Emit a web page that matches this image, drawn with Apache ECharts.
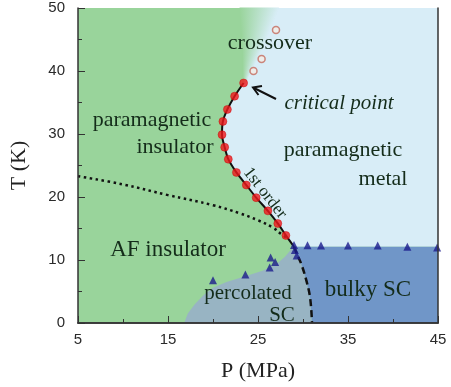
<!DOCTYPE html>
<html><head><meta charset="utf-8">
<script src="https://cdn.jsdelivr.net/npm/echarts@6.0.0/dist/echarts.min.js"></script>
<style>html,body{margin:0;padding:0;background:#fff}#c{width:451px;height:387px}</style>
</head><body><div id="c"></div>
<script>
// ---------- data (P in MPa, T in K) ----------
// first-order transition points (red filled circles)
const firstOrderP = [23.4, 22.4, 21.6, 21.1, 21.0, 21.3, 21.7, 22.6, 23.7, 24.8, 26.1, 27.2, 28.1];
const firstOrderT = [38.1, 36.0, 33.9, 32.0, 29.9, 27.9, 26.0, 23.9, 21.9, 19.9, 17.8, 15.8, 13.9];
// end of first-order line (meets SC onset)
const firstOrderEndP = [29.0];
const firstOrderEndT = [12.1];
// crossover points (open circles)
const crossoverP = [24.5, 25.4, 27.0];
const crossoverT = [40.0, 41.9, 46.5];
// SC onset triangles
const tcP = [20.0, 23.6, 26.3, 26.4, 26.9, 29.0, 29.1, 29.3, 30.5, 32.0, 35.0, 38.3, 41.6, 44.9];
const tcT = [6.8, 7.7, 8.8, 10.4, 9.7, 12.4, 11.6, 10.7, 12.35, 12.3, 12.3, 12.3, 12.1, 12.0];
// AF boundary (dotted)
const afP = [5.0, 10.0, 15.0, 20.0, 23.0, 25.0, 26.7, 27.6, 28.4];
const afT = [23.3, 22.0, 20.3, 18.7, 17.4, 16.3, 15.1, 14.1, 13.4];
// percolated / bulky SC boundary (dashed)
const dashP = [29.0, 29.4, 29.85, 30.4, 30.8, 31.0];
const dashT = [12.1, 10.7, 9.2, 6.6, 3.9, 0.0];
// percolated SC boundary with AF insulator
const percP = [16.8, 17.2, 18.0, 19.0, 20.0, 21.5, 23.5, 25.5, 27.0, 28.0, 28.7, 29.0];
const percT = [0.0, 1.5, 3.0, 4.5, 5.6, 6.5, 7.4, 8.3, 9.3, 10.5, 11.7, 12.1];
// bulky SC top
const bulkTopT = 12.1;
// crossover band edges
const bandLeftP = [23.4, 23.3, 23.0];
const bandLeftT = [38.1, 44.0, 50.0];
const bandRightP = [23.6, 24.2, 25.6, 27.3];
const bandRightT = [38.1, 40.0, 44.0, 50.0];
// axes
const xMin = 5, xMax = 45, yMin = 0, yMax = 50;

const zip = (a, b) => a.map((v, i) => [v, b[i]]);
const GREEN = '#99d49b', METAL = '#d8edf7', PERC = '#98b4c3', BULK = '#7096c8';

const firstOrderPts = zip(firstOrderP, firstOrderT);
const firstOrderLine = firstOrderPts.concat(zip(firstOrderEndP, firstOrderEndT));
const metalPoly = firstOrderLine.slice().reverse().reverse(); // copy
const metalRegion = [].concat(
  firstOrderPts,
  zip(firstOrderEndP, firstOrderEndT),
  [[xMax, bulkTopT], [xMax, yMax], [bandRightP[bandRightP.length-1], yMax]],
  zip(bandRightP, bandRightT).reverse()
);
const percRegion = [].concat(zip(percP, percT), zip(dashP, dashT));
const bulkRegion = [].concat(zip(dashP, dashT), [[xMax, 0], [xMax, bulkTopT]]);

function polySeries(pts, fill, z) {
  return {
    type: 'custom', coordinateSystem: 'cartesian2d', silent: true, z: z,
    data: pts,
    renderItem: (params, api) => {
      if (params.dataIndex !== 0) return null;
      return { type: 'polygon', shape: { points: pts.map(p => api.coord(p)) }, style: { fill: fill } };
    }
  };
}
function interp(ps, ts, t) {
  for (let i = 0; i < ts.length - 1; i++) {
    if (t >= ts[i] && t <= ts[i+1]) {
      const f = (t - ts[i]) / (ts[i+1] - ts[i]);
      return ps[i] + f * (ps[i+1] - ps[i]);
    }
  }
  return t < ts[0] ? ps[0] : ps[ps.length-1];
}
const bandSeries = {
  type: 'custom', coordinateSystem: 'cartesian2d', silent: true, z: 2,
  data: [[bandLeftP[0], bandLeftT[0]]],
  renderItem: (params, api) => {
    const children = [];
    const t0 = bandLeftT[0], t1 = yMax, n = 60, dt = (t1 - t0) / n;
    for (let i = 0; i < n; i++) {
      const ta = t0 + i * dt, tb = ta + dt, tm = (ta + tb) / 2;
      const xl = interp(bandLeftP, bandLeftT, tm), xr = interp(bandRightP, bandRightT, tm);
      const a = api.coord([xl, tb]), b = api.coord([xr, ta]);
      children.push({
        type: 'rect',
        shape: { x: a[0] - 0.5, y: a[1] - 0.5, width: b[0] - a[0] + 1, height: b[1] - a[1] + 1 },
        style: { fill: new echarts.graphic.LinearGradient(0, 0, 1, 0, [
          { offset: 0, color: GREEN }, { offset: 1, color: METAL }]) }
      });
    }
    return { type: 'group', children: children };
  }
};

const serif = "'Liberation Serif','Times New Roman',serif";
const TXT = '#142c1a';
function label(text, x, y, size, extra) {
  return Object.assign({ type: 'text', x: x, y: y, z: 100,
    style: Object.assign({ text: text, font: size + 'px ' + serif, fill: TXT, align: 'center', verticalAlign: 'middle' }, extra && extra.style || {}) },
    extra && extra.el || {});
}

const chart = echarts.init(document.getElementById('c'), null, { renderer: 'canvas' });
chart.setOption({
  animation: false,
  backgroundColor: '#ffffff',
  grid: { left: 78, right: 13, top: 8, bottom: 62, show: true, backgroundColor: GREEN, borderWidth: 0 },
  xAxis: [{
    type: 'value', min: xMin, max: xMax, interval: 10,
    name: 'P (MPa)', nameLocation: 'middle', nameGap: 37,
    nameTextStyle: { fontFamily: serif, fontSize: 22, color: '#222' },
    axisLine: { show: true, lineStyle: { color: '#333', width: 1.5 } },
    axisTick: { show: true, inside: true, length: 7, lineStyle: { color: '#333', width: 1 } },
    minorTick: { show: true, splitNumber: 2, length: 4, lineStyle: { color: '#333', width: 1 } },
    axisLabel: { margin: 9, fontFamily: "'Liberation Sans',Arial,sans-serif", fontSize: 15, color: '#2a2a2a' },
    splitLine: { show: false }, z: 50
  }, {
    type: 'value', position: 'top', min: xMin, max: xMax,
    axisLine: { show: true, lineStyle: { color: '#333', width: 1.5 } },
    axisTick: { show: false }, axisLabel: { show: false }, splitLine: { show: false }, z: 50
  }],
  yAxis: [{
    type: 'value', min: yMin, max: yMax, interval: 10,
    name: 'T (K)', nameLocation: 'middle', nameGap: 48,
    nameTextStyle: { fontFamily: serif, fontSize: 22, color: '#222' },
    axisLine: { show: true, lineStyle: { color: '#333', width: 1.5 } },
    axisTick: { show: true, inside: true, length: 7, lineStyle: { color: '#333', width: 1 } },
    minorTick: { show: true, splitNumber: 2, length: 4, lineStyle: { color: '#333', width: 1 } },
    axisLabel: { margin: 13, fontFamily: "'Liberation Sans',Arial,sans-serif", fontSize: 15, color: '#2a2a2a' },
    splitLine: { show: false }, z: 50
  }, {
    type: 'value', position: 'right', min: yMin, max: yMax,
    axisLine: { show: true, lineStyle: { color: '#333', width: 1.5 } },
    axisTick: { show: false }, axisLabel: { show: false }, splitLine: { show: false }, z: 50
  }],
  series: [
    polySeries(metalRegion, METAL, 1),
    bandSeries,
    polySeries(percRegion, PERC, 1),
    polySeries(bulkRegion, BULK, 1),
    { type: 'line', data: firstOrderLine, smooth: 0.3, symbol: 'none', silent: true, z: 5,
      lineStyle: { color: '#111', width: 2 } },
    { type: 'line', data: zip(afP, afT), smooth: 0.4, symbol: 'none', silent: true, z: 5,
      lineStyle: { color: '#111', width: 2.5, type: [2.5, 3.5] } },
    { type: 'line', data: zip(dashP, dashT), smooth: 0.4, symbol: 'none', silent: true, z: 5,
      lineStyle: { color: '#111', width: 2.5, type: [7, 4] } },
    { type: 'scatter', data: firstOrderPts, symbol: 'circle', symbolSize: 8, silent: true, z: 6,
      itemStyle: { color: '#f0161a', borderColor: '#c40000', borderWidth: 0.5 } },
    { type: 'scatter', data: zip(crossoverP, crossoverT), symbol: 'circle', symbolSize: 7, silent: true, z: 6,
      itemStyle: { color: '#f4ece6', borderColor: '#c46a5c', borderWidth: 1.5 } },
    { type: 'scatter', data: zip(tcP, tcT), symbol: 'triangle', symbolSize: 8, silent: true, z: 6,
      itemStyle: { color: '#1b1b8c' } }
  ],
  graphic: [
    label('crossover', 270, 43, 22),
    label('critical point', 339, 103, 21, { style: { font: 'italic 21px ' + serif } }),
    label('paramagnetic', 152, 120, 22),
    label('insulator', 175, 147, 22),
    label('paramagnetic', 343, 150, 22),
    label('metal', 383, 179, 22),
    label('1st order', 265, 193, 17, { el: { rotation: -52 * Math.PI / 180 } }),
    label('AF insulator', 168, 250, 23),
    label('percolated', 248, 293, 21),
    label('SC', 282, 315, 21),
    label('bulky SC', 368, 290, 23),
    { type: 'polyline', z: 100, shape: { points: [[276, 99], [254, 88]] }, style: { stroke: '#111', lineWidth: 2 } },
    { type: 'polyline', z: 100, shape: { points: [[262, 86], [253, 87.5], [258.5, 95]] }, style: { stroke: '#111', lineWidth: 2, fill: null } }
  ]
});
</script></body></html>
